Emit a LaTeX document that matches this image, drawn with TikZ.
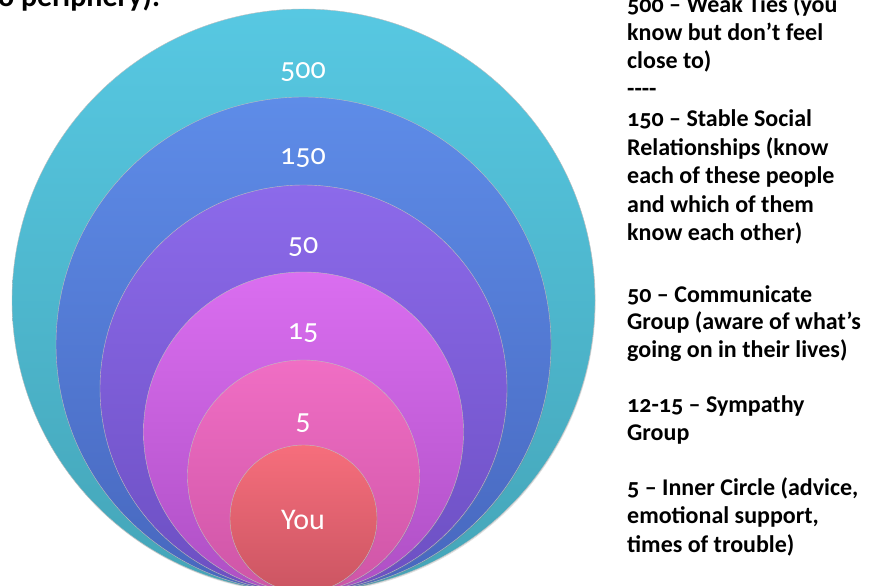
\documentclass[tikz,border=0pt]{standalone}
\usepackage{fontspec}
\setmainfont{Carlito}[Numbers=OldStyle]
\usetikzlibrary{shadows}

\tikzstyle{ring}=[circle,inner sep=0pt,draw=black!25,line width=0.4pt,
  drop shadow={opacity=0.25,shadow xshift=0.6pt,shadow yshift=-1.2pt}]
\tikzstyle{count}=[text=white,font=\fontsize{30}{32}\selectfont]
\tikzstyle{note}=[anchor=base west,inner sep=0pt,font=\bfseries\fontsize{24}{28}\selectfont]
\newcommand{\ringbase}{592}

\begin{document}
\begin{tikzpicture}[x=1pt,y=-1pt]
    \useasboundingbox (0,0) rectangle (871,586);
    % First we draw the rings, all touching at the bottom
    \foreach \r/\name/\tc/\bc in {291.5/c500/57C8E2/44A5B8, 247.5/c150/5E8CE8/4767BE,
        203.5/c50/8C6AEA/6C4FC2, 160/c15/DA6EF0/AE4FC4, 116/c5/F06EC4/CE55A6, 73.5/cyou/F66E7C/CB5562}
    {
        \definecolor{tc}{HTML}{\tc}\definecolor{bc}{HTML}{\bc}
        \node[ring,minimum size=2*\r,top color=tc,bottom color=bc] (\name) at (303.5,\ringbase-\r) {};
    }
    % Labels of the rings
    \foreach \pos/\name/\txt in {{(303,72)/l500/500}, {(303,158)/l150/150}, {(303,247)/l50/50},
        {(303,333)/l15/15}, {(303,423)/l5/5}, {(303,520)/lyou/You}}
        \node[count] (\name) at \pos {\txt};
    % Cut-off heading
    \node[note,font=\bfseries\fontsize{30}{32}\selectfont] (head) at (-2,7) {o periphery).};
    % Notes on the right
    \foreach \y/\name/\txt in {13/n1/{500 – Weak Ties (you}, 41/n2/{know but don’t feel}, 69/n3/{close to)},
        97/n4/{-{}-{}-{}-}, 127/n5/{150 – Stable Social}, 155/n6/{Relationships (know},
        183/n7/{each of these people}, 212/n8/{and which of them}, 240/n9/{know each other)},
        302/n10/{50 – Communicate}, 329/n11/{Group (aware of what’s}, 357/n12/{going on in their lives)},
        412/n13/{12-15 – Sympathy}, 440/n14/{Group},
        495/n15/{5 – Inner Circle (advice,}, 523/n16/{emotional support,}, 552/n17/{times of trouble)}}
        \node[note] (\name) at (627,\y) {\txt};
\end{tikzpicture}
\end{document}
